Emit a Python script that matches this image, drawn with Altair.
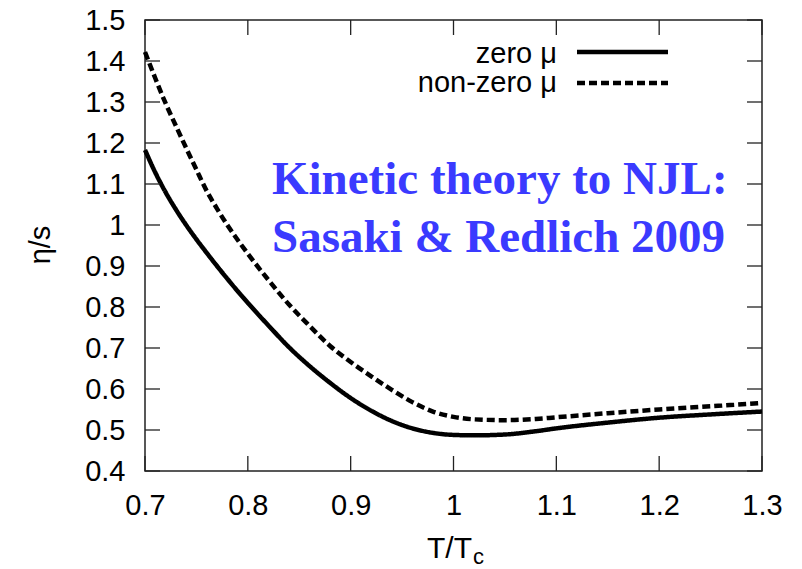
import altair as alt
import pandas as pd

# ---- data ----
t_zero = [0.70, 0.71, 0.72, 0.73, 0.74, 0.75, 0.76, 0.77, 0.78, 0.79, 0.80,
          0.82, 0.84, 0.86, 0.88, 0.90, 0.92, 0.94, 0.96, 0.98, 1.00, 1.02,
          1.05, 1.08, 1.10, 1.15, 1.20, 1.25, 1.30]
eta_zero = [1.183, 1.128, 1.080, 1.038, 1.000, 0.965, 0.932, 0.900, 0.869, 0.839, 0.810,
            0.755, 0.702, 0.656, 0.615, 0.578, 0.547, 0.522, 0.504, 0.493, 0.488, 0.487,
            0.489, 0.497, 0.504, 0.518, 0.530, 0.538, 0.545]

t_nonzero = [0.70, 0.71, 0.72, 0.73, 0.74, 0.75, 0.76, 0.77, 0.78, 0.79, 0.80,
             0.82, 0.84, 0.86, 0.88, 0.90, 0.92, 0.94, 0.96, 0.98, 1.00, 1.02,
             1.05, 1.08, 1.10, 1.15, 1.20, 1.25, 1.30]
eta_nonzero = [1.422, 1.358, 1.297, 1.242, 1.188, 1.135, 1.083, 1.040, 1.000, 0.964, 0.930,
               0.866, 0.806, 0.754, 0.705, 0.666, 0.631, 0.598, 0.568, 0.545, 0.532, 0.526,
               0.524, 0.527, 0.531, 0.541, 0.550, 0.558, 0.566]

series_names = ["zero μ", "non-zero μ"]
x_ticks = [0.7, 0.8, 0.9, 1.0, 1.1, 1.2, 1.3]
y_ticks = [0.4, 0.5, 0.6, 0.7, 0.8, 0.9, 1.0, 1.1, 1.2, 1.3, 1.4, 1.5]
annotation_lines = ["Kinetic theory to NJL:", "Sasaki & Redlich 2009"]

W, H = 617, 451
FONT = "Liberation Sans"
TICK = 15

df = pd.concat([
    pd.DataFrame({"T": t_zero, "eta": eta_zero, "series": series_names[0]}),
    pd.DataFrame({"T": t_nonzero, "eta": eta_nonzero, "series": series_names[1]}),
])

xs = alt.Scale(domain=[0.7, 1.3], nice=False, zero=False)
ys = alt.Scale(domain=[0.4, 1.5], nice=False, zero=False)

axis_common = dict(format="~g", title=None, grid=False, domain=False, ticks=False,
                   tickSize=0, labelPadding=20, labelFont=FONT, labelFontSize=29,
                   labelColor="black", labelFlush=False, labelOverlap=False)

lines = alt.Chart(df).mark_line(color="black", strokeWidth=4.5, interpolate="monotone",
                                strokeCap="butt").encode(
    x=alt.X("T:Q", scale=xs, axis=alt.Axis(values=x_ticks, **axis_common)),
    y=alt.Y("eta:Q", scale=ys, axis=alt.Axis(values=y_ticks, **axis_common)),
    strokeDash=alt.StrokeDash("series:N", scale=alt.Scale(domain=series_names,
                                                          range=[[1, 0], [8, 4]]),
                              legend=None),
    detail="series:N",
)

xt = pd.DataFrame({"v": x_ticks})
yt = pd.DataFrame({"v": y_ticks})
tick_style = dict(color="#222", strokeWidth=1.3)
xb = alt.Chart(xt).mark_rule(**tick_style).encode(x=alt.X("v:Q", scale=xs), y=alt.value(H), y2=alt.value(H - TICK))
xtp = alt.Chart(xt).mark_rule(**tick_style).encode(x=alt.X("v:Q", scale=xs), y=alt.value(0), y2=alt.value(TICK))
yl = alt.Chart(yt).mark_rule(**tick_style).encode(y=alt.Y("v:Q", scale=ys), x=alt.value(0), x2=alt.value(TICK))
yr = alt.Chart(yt).mark_rule(**tick_style).encode(y=alt.Y("v:Q", scale=ys), x=alt.value(W), x2=alt.value(W - TICK))

one = alt.Data(values=[{}])

def txt(text, x, y, **kw):
    return alt.Chart(one).mark_text(text=text, **kw).encode(x=alt.value(x), y=alt.value(y))

# legend
leg = [
    txt(series_names[0], 557 - 145, 63 - 20, align="right", baseline="alphabetic",
        font=FONT, fontSize=29, color="black"),
    txt(series_names[1], 557 - 145, 92 - 20, align="right", baseline="alphabetic",
        font=FONT, fontSize=29, color="black"),
    alt.Chart(one).mark_rule(color="black", strokeWidth=4.5).encode(
        x=alt.value(577 - 145), x2=alt.value(668 - 145), y=alt.value(52 - 20)),
    alt.Chart(one).mark_rule(color="black", strokeWidth=4.5, strokeDash=[8, 4]).encode(
        x=alt.value(577 - 145), x2=alt.value(668 - 145), y=alt.value(83 - 20)),
]

# annotation
blue = "#3a3aff"
ann = [
    txt(annotation_lines[0], 272 - 145, 194 - 20, align="left", baseline="alphabetic",
        font="Liberation Serif", fontWeight="bold", fontSize=47, color=blue),
    txt(annotation_lines[1], 272 - 145, 252 - 20, align="left", baseline="alphabetic",
        font="Liberation Serif", fontWeight="bold", fontSize=47, color=blue),
]

# axis titles
titles = [
    txt("T/T", 472 - 145, 558 - 20, align="right", baseline="alphabetic",
        font=FONT, fontSize=30, color="black"),
    txt("c", 473 - 145, 564 - 20, align="left", baseline="alphabetic",
        font=FONT, fontSize=22, color="black"),
    txt("η/s", 50 - 145, 245 - 20, align="center", baseline="alphabetic", angle=270,
        font=FONT, fontSize=29, color="black"),
]

chart = alt.layer(lines, xb, xtp, yl, yr, *leg, *ann, *titles).properties(
    width=W, height=H,
    autosize=alt.AutoSizeParams(type="none"),
    padding={"left": 145, "top": 20, "right": 40, "bottom": 98},
    background="white",
).configure_view(stroke="#222", strokeWidth=1.5)

chart.save("out.html", embed_options={"renderer": "svg", "actions": False})
